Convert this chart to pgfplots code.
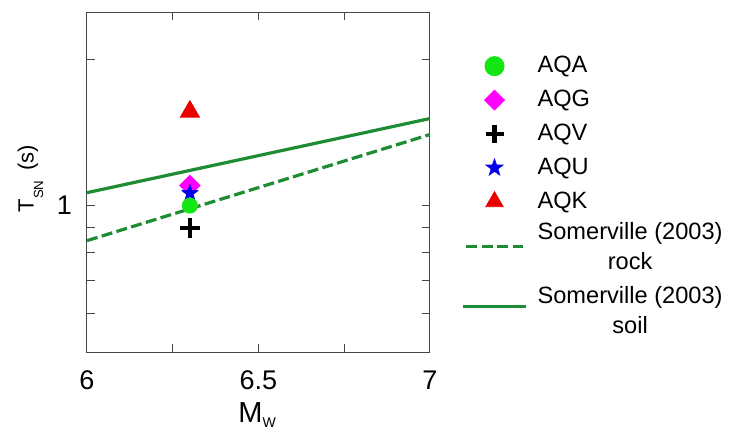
\documentclass[border=0pt]{standalone}
\usepackage{fontspec}
\setmainfont{Liberation Sans}
\usepackage{pgfplots}
\pgfplotsset{compat=1.18}

\definecolor{linegreen}{RGB}{30,140,50}
\definecolor{ptgreen}{RGB}{20,230,20}
\definecolor{ptmagenta}{RGB}{255,0,255}
\definecolor{ptblue}{RGB}{0,0,235}
\definecolor{ptred}{RGB}{235,0,0}
\definecolor{axgray}{RGB}{70,70,70}

% filled five-pointed star
\pgfdeclareplotmark{fstar}{%
  \pgfpathmoveto{\pgfqpointpolar{90}{\pgfplotmarksize}}%
  \pgfpathlineto{\pgfqpointpolar{126}{0.4\pgfplotmarksize}}%
  \pgfpathlineto{\pgfqpointpolar{162}{\pgfplotmarksize}}%
  \pgfpathlineto{\pgfqpointpolar{198}{0.4\pgfplotmarksize}}%
  \pgfpathlineto{\pgfqpointpolar{234}{\pgfplotmarksize}}%
  \pgfpathlineto{\pgfqpointpolar{270}{0.4\pgfplotmarksize}}%
  \pgfpathlineto{\pgfqpointpolar{306}{\pgfplotmarksize}}%
  \pgfpathlineto{\pgfqpointpolar{342}{0.4\pgfplotmarksize}}%
  \pgfpathlineto{\pgfqpointpolar{18}{\pgfplotmarksize}}%
  \pgfpathlineto{\pgfqpointpolar{54}{0.4\pgfplotmarksize}}%
  \pgfpathclose
  \pgfusepathqfillstroke
}

\pgfplotsset{
  rocklegend/.style={legend image code/.code={\draw[##1] (-5.5pt,-2.5pt) -- (22.6pt,-2.5pt);}},
  soillegend/.style={legend image code/.code={\draw[##1] (-7.2pt,-5pt) -- (24.3pt,-5pt);}},
}

\begin{document}
\begin{tikzpicture}
\path[use as bounding box] (-43.5pt,-39pt) rectangle (327pt,176pt);
\begin{axis}[
  at={(0,0)}, anchor=south west,
  width=171.5pt, height=170pt, scale only axis,
  xmin=6, xmax=7,
  ymode=log, ymin=0.5, ymax=2.5,
  xtick={6,6.5,7}, minor xtick={6.25,6.75},
  ytick={1}, yticklabels={1},
  minor ytick={0.6,0.7,0.8,0.9,2},
  tick align=inside,
  major tick length=4pt, minor tick length=4pt,
  axis line style={axgray, line width=0.5pt},
  every tick/.style={axgray, line width=0.5pt},
  /pgf/number format/assume math mode=true,
  tick label style={font=\fontsize{13.5}{15}\selectfont},
  xticklabel style={yshift=-6pt},
  yticklabel style={xshift=-4pt},
  xlabel={M\raisebox{-2.5pt}{\fontsize{7}{8}\selectfont W}},
  ylabel={T\raisebox{-4.8pt}{\fontsize{6.6}{7}\selectfont SN}\hspace{5pt}(s)},
  xlabel style={font=\fontsize{14.5}{16}\selectfont,
    at={(axis description cs:0.496,-0.184)}, anchor=center},
  ylabel style={font=\fontsize{11}{12}\selectfont,
    at={(axis description cs:-0.165,0.51)}, anchor=center},
  legend style={at={(1.073,0.894)}, anchor=north west, draw=none, fill=none,
    font=\fontsize{11.8}{15}\selectfont, column sep=3pt, row sep=3.2pt,
    cells={anchor=west}},
  legend cell align=left,
]
% Somerville (2003) lines
\addplot[forget plot, linegreen, line width=1.6pt, dash pattern=on 5.5pt off 2.2pt]
  coordinates {(6,0.847) (7,1.40)};
\addplot[forget plot, linegreen, line width=1.6pt]
  coordinates {(6,1.063) (7,1.51)};

% stations
\addplot[forget plot, only marks, mark=square*, mark size=3.6pt,
  mark options={rotate=45, fill=ptmagenta, draw=ptmagenta}]
  coordinates {(6.3,1.10)};
\addplot[forget plot, only marks, mark=fstar, mark size=4.2pt,
  mark options={fill=ptblue, draw=ptblue}]
  coordinates {(6.3,1.06)};
\addplot[forget plot, only marks, mark=*, mark size=3.8pt,
  mark options={fill=ptgreen, draw=ptgreen}]
  coordinates {(6.3,1.0)};
\addplot[forget plot, only marks, mark=+, mark size=5pt,
  mark options={black, line width=2.2pt}]
  coordinates {(6.3,0.90)};
\addplot[forget plot, only marks, mark=triangle*, mark size=5.5pt,
  mark options={fill=ptred, draw=ptred}]
  coordinates {(6.3,1.56)};

% legend
\addlegendimage{only marks, mark=*, mark size=4.8pt, mark options={fill=ptgreen, draw=ptgreen}}
\addlegendentry{AQA}
\addlegendimage{only marks, mark=square*, mark size=3.5pt, mark options={rotate=45, fill=ptmagenta, draw=ptmagenta}}
\addlegendentry{AQG}
\addlegendimage{only marks, mark=+, mark size=4.5pt, mark options={black, line width=2.2pt}}
\addlegendentry{AQV}
\addlegendimage{only marks, mark=fstar, mark size=4.4pt, mark options={fill=ptblue, draw=ptblue}}
\addlegendentry{AQU}
\addlegendimage{only marks, mark=triangle*, mark size=5pt, mark options={fill=ptred, draw=ptred}}
\addlegendentry{AQK}
\addlegendimage{linegreen, line width=1.6pt, dash pattern=on 5.5pt off 2.2pt, rocklegend}
\addlegendentry{\raisebox{0pt}[\dimexpr\height-3.5pt\relax][\dimexpr\depth+5pt\relax]{\begin{tabular}{@{}c@{}}Somerville (2003)\\rock\end{tabular}}}
\addlegendimage{linegreen, line width=1.6pt, soillegend}
\addlegendentry{\raisebox{0pt}[\dimexpr\height+5pt\relax][\depth]{\begin{tabular}{@{}c@{}}Somerville (2003)\\soil\end{tabular}}}
\end{axis}
\end{tikzpicture}
\end{document}
